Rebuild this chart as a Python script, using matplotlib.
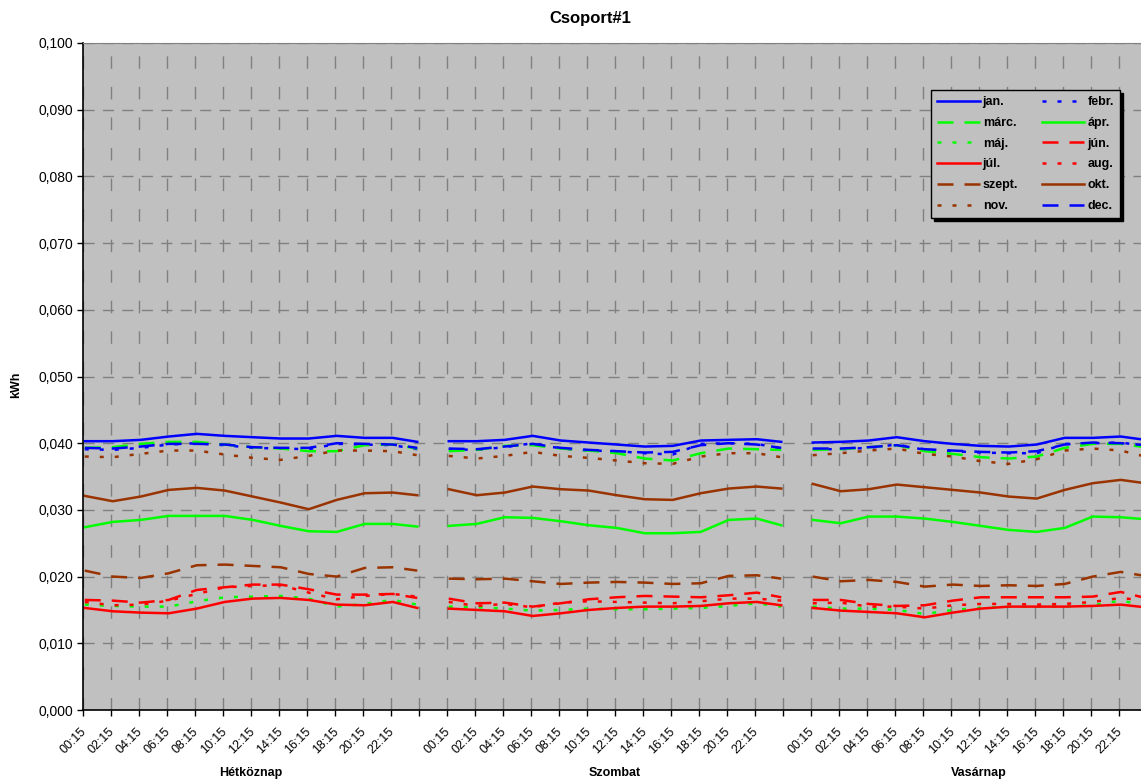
import matplotlib
matplotlib.use('Agg')
import matplotlib.pyplot as plt
import matplotlib.transforms as mtransforms
from matplotlib.ticker import FuncFormatter
import numpy as np

plt.rcParams['font.family'] = ['Liberation Sans', 'DejaVu Sans']

# category axis: 96 quarter hours per day, 8 empty categories between days
DAYS = ['Hétköznap', 'Szombat', 'Vasárnap']
DAY_OFFSET = [0, 104, 208]
HOUR_LABELS = ['00:15', '02:15', '04:15', '06:15', '08:15', '10:15',
               '12:15', '14:15', '16:15', '18:15', '20:15', '22:15']
# quarter-hour categories where values were read (every 2 h + last one)
POINT_CATS = [0, 8, 16, 24, 32, 40, 48, 56, 64, 72, 80, 88, 95]

# values per day (13 each): Hétköznap, Szombat, Vasárnap
jan = [0.0403, 0.0403, 0.0405, 0.0410, 0.0414, 0.0411, 0.0409, 0.0407, 0.0407, 0.0411, 0.0408, 0.0408, 0.0402,
       0.0403, 0.0403, 0.0405, 0.0411, 0.0404, 0.0401, 0.0398, 0.0395, 0.0396, 0.0404, 0.0405, 0.0406, 0.0402,
       0.0401, 0.0402, 0.0404, 0.0409, 0.0403, 0.0399, 0.0396, 0.0395, 0.0398, 0.0408, 0.0408, 0.0410, 0.0405]
febr = [0.0391, 0.0390, 0.0393, 0.0398, 0.0400, 0.0397, 0.0393, 0.0392, 0.0391, 0.0399, 0.0398, 0.0397, 0.0391,
        0.0391, 0.0390, 0.0394, 0.0400, 0.0392, 0.0389, 0.0388, 0.0385, 0.0383, 0.0399, 0.0400, 0.0399, 0.0392,
        0.0391, 0.0391, 0.0393, 0.0398, 0.0390, 0.0388, 0.0386, 0.0385, 0.0385, 0.0399, 0.0400, 0.0401, 0.0396]
marc = [0.0393, 0.0394, 0.0399, 0.0402, 0.0402, 0.0398, 0.0394, 0.0392, 0.0388, 0.0388, 0.0397, 0.0398, 0.0392,
        0.0388, 0.0390, 0.0396, 0.0397, 0.0392, 0.0389, 0.0385, 0.0377, 0.0374, 0.0385, 0.0392, 0.0391, 0.0390,
        0.0390, 0.0391, 0.0394, 0.0397, 0.0388, 0.0384, 0.0379, 0.0377, 0.0380, 0.0393, 0.0399, 0.0399, 0.0394]
apr = [0.0274, 0.0282, 0.0285, 0.0291, 0.0291, 0.0291, 0.0285, 0.0276, 0.0268, 0.0267, 0.0279, 0.0279, 0.0275,
       0.0276, 0.0279, 0.0289, 0.0288, 0.0283, 0.0277, 0.0273, 0.0265, 0.0265, 0.0267, 0.0285, 0.0287, 0.0277,
       0.0285, 0.0280, 0.0290, 0.0290, 0.0287, 0.0282, 0.0276, 0.0270, 0.0267, 0.0273, 0.0290, 0.0289, 0.0286]
maj = [0.0158, 0.0156, 0.0155, 0.0155, 0.0163, 0.0169, 0.0170, 0.0171, 0.0167, 0.0155, 0.0159, 0.0165, 0.0158,
       0.0155, 0.0154, 0.0152, 0.0149, 0.0150, 0.0152, 0.0151, 0.0151, 0.0152, 0.0153, 0.0156, 0.0160, 0.0155,
       0.0155, 0.0152, 0.0152, 0.0150, 0.0144, 0.0150, 0.0153, 0.0155, 0.0155, 0.0155, 0.0157, 0.0164, 0.0157]
jun = [0.0165, 0.0164, 0.0161, 0.0165, 0.0180, 0.0184, 0.0188, 0.0188, 0.0181, 0.0173, 0.0173, 0.0174, 0.0168,
       0.0167, 0.0160, 0.0161, 0.0155, 0.0160, 0.0166, 0.0169, 0.0171, 0.0170, 0.0169, 0.0172, 0.0176, 0.0169,
       0.0165, 0.0165, 0.0159, 0.0156, 0.0157, 0.0164, 0.0169, 0.0169, 0.0169, 0.0169, 0.0170, 0.0177, 0.0168]
jul = [0.0153, 0.0148, 0.0146, 0.0145, 0.0152, 0.0162, 0.0167, 0.0168, 0.0165, 0.0158, 0.0157, 0.0162, 0.0153,
       0.0152, 0.0150, 0.0148, 0.0141, 0.0145, 0.0150, 0.0153, 0.0155, 0.0155, 0.0156, 0.0160, 0.0162, 0.0157,
       0.0153, 0.0149, 0.0147, 0.0145, 0.0139, 0.0146, 0.0152, 0.0155, 0.0155, 0.0155, 0.0156, 0.0158, 0.0154]
aug = [0.0162, 0.0157, 0.0158, 0.0164, 0.0174, 0.0184, 0.0186, 0.0187, 0.0176, 0.0166, 0.0171, 0.0174, 0.0170,
       0.0162, 0.0156, 0.0159, 0.0154, 0.0161, 0.0163, 0.0162, 0.0161, 0.0160, 0.0163, 0.0167, 0.0167, 0.0164,
       0.0160, 0.0161, 0.0155, 0.0155, 0.0152, 0.0157, 0.0159, 0.0159, 0.0158, 0.0159, 0.0162, 0.0168, 0.0164]
szept = [0.0209, 0.0200, 0.0198, 0.0205, 0.0217, 0.0218, 0.0216, 0.0214, 0.0204, 0.0200, 0.0213, 0.0214, 0.0209,
         0.0197, 0.0196, 0.0197, 0.0193, 0.0189, 0.0191, 0.0192, 0.0191, 0.0189, 0.0190, 0.0201, 0.0202, 0.0197,
         0.0200, 0.0193, 0.0195, 0.0192, 0.0185, 0.0188, 0.0186, 0.0187, 0.0186, 0.0189, 0.0200, 0.0207, 0.0201]
okt = [0.0321, 0.0313, 0.0320, 0.0330, 0.0333, 0.0329, 0.0320, 0.0311, 0.0301, 0.0315, 0.0325, 0.0326, 0.0322,
       0.0331, 0.0322, 0.0326, 0.0335, 0.0331, 0.0329, 0.0322, 0.0316, 0.0315, 0.0325, 0.0332, 0.0335, 0.0332,
       0.0339, 0.0328, 0.0331, 0.0338, 0.0334, 0.0330, 0.0326, 0.0320, 0.0317, 0.0330, 0.0340, 0.0345, 0.0340]
nov = [0.0380, 0.0379, 0.0384, 0.0389, 0.0389, 0.0383, 0.0378, 0.0375, 0.0381, 0.0389, 0.0389, 0.0388, 0.0382,
       0.0381, 0.0377, 0.0381, 0.0387, 0.0381, 0.0378, 0.0374, 0.0370, 0.0369, 0.0380, 0.0385, 0.0385, 0.0379,
       0.0382, 0.0385, 0.0389, 0.0392, 0.0384, 0.0380, 0.0373, 0.0369, 0.0376, 0.0389, 0.0392, 0.0389, 0.0380]
dec = [0.0393, 0.0392, 0.0395, 0.0399, 0.0399, 0.0398, 0.0394, 0.0393, 0.0393, 0.0400, 0.0399, 0.0398, 0.0393,
       0.0392, 0.0391, 0.0395, 0.0399, 0.0393, 0.0390, 0.0388, 0.0386, 0.0387, 0.0397, 0.0400, 0.0398, 0.0393,
       0.0392, 0.0392, 0.0394, 0.0397, 0.0391, 0.0389, 0.0387, 0.0386, 0.0388, 0.0398, 0.0401, 0.0400, 0.0397]

BLUE, GREEN, RED, BROWN = '#0000FF', '#00FF00', '#FF0000', '#993300'
SOLID, DASH, DOT = None, (6.4, 4.4), (1.6, 4.4)

series = [
    ('jan.', jan, BLUE, SOLID), ('febr.', febr, BLUE, DOT),
    ('márc.', marc, GREEN, DASH), ('ápr.', apr, GREEN, SOLID),
    ('máj.', maj, GREEN, DOT), ('jún.', jun, RED, DASH),
    ('júl.', jul, RED, SOLID), ('aug.', aug, RED, DOT),
    ('szept.', szept, BROWN, DASH), ('okt.', okt, BROWN, SOLID),
    ('nov.', nov, BROWN, DOT), ('dec.', dec, BLUE, DASH),
]

W, H = 1141, 782
fig = plt.figure(figsize=(W / 100, H / 100), dpi=100)
ax = fig.add_axes([83 / W, 1 - 710 / H, 1064 / W, 667 / H])
ax.set_facecolor('#C0C0C0')

n = len(POINT_CATS)
handles = {}
for name, vals, col, dash in series:
    for d, off in enumerate(DAY_OFFSET):
        xs = [off + c + 0.5 for c in POINT_CATS]
        ys = vals[d * n:(d + 1) * n]
        ln, = ax.plot(xs, ys, color=col, lw=1.8, label=name if d == 0 else None)
        if dash is not None:
            ln.set_dashes(dash)
        if d == 0:
            handles[name] = ln

ax.set_xlim(0, 304)
ax.set_ylim(0, 0.1)

# y axis
ax.set_yticks(np.arange(0, 0.1001, 0.01))
ax.yaxis.set_major_formatter(FuncFormatter(lambda v, p: ('%.3f' % v).replace('.', ',')))
ax.tick_params(axis='y', direction='out', length=4, width=1, labelsize=10, pad=3)
ax.grid(axis='y', color='#808080', lw=1, dashes=(8, 6))

# x axis: tick marks between groups of 8 categories, labels on category centres
ax.set_xticks(np.arange(0, 305, 8))
ax.set_xticklabels([])
ax.tick_params(axis='x', which='major', direction='out', length=4, width=1)
ax.grid(axis='x', which='major', color='#808080', lw=1, dashes=(9, 13))

lab_pos, lab_txt = [], []
for off in DAY_OFFSET:
    for i, lab in enumerate(HOUR_LABELS):
        lab_pos.append(off + i * 8 + 0.5)
        lab_txt.append(lab)
ax.set_xticks(lab_pos, minor=True)
ax.set_xticklabels(lab_txt, minor=True)
ax.tick_params(axis='x', which='minor', length=0, labelsize=9, pad=14)
for t in ax.get_xticklabels(minor=True):
    t.set_rotation(45)
    t.set_ha('right')
    t.set_va('center')
    t.set_rotation_mode('anchor')

ax.set_axisbelow(True)
for s in ['left', 'bottom']:
    ax.spines[s].set_color('black')
    ax.spines[s].set_linewidth(1.2)
ax.spines['top'].set_color('#808080')
ax.spines['right'].set_visible(False)

trans = mtransforms.blended_transform_factory(ax.transData, fig.transFigure)
for day, off in zip(DAYS, DAY_OFFSET):
    ax.text(off + 48, 1 - 773 / H, day, transform=trans, ha='center', va='center',
            fontsize=9, fontweight='bold')

fig.text(590 / W, 1 - 18 / H, 'Csoport#1', ha='center', va='center', fontsize=12, fontweight='bold')
fig.text(16 / W, 1 - 385 / H, 'kWh', rotation=90, ha='center', va='center', fontsize=9, fontweight='bold')

# legend filled row by row like Excel
order = ['jan.', 'márc.', 'máj.', 'júl.', 'szept.', 'nov.',
         'febr.', 'ápr.', 'jún.', 'aug.', 'okt.', 'dec.']
leg = ax.legend([handles[k] for k in order], order, ncol=2, loc='upper right',
                bbox_to_anchor=(1120 / W, 1 - 90 / H), bbox_transform=fig.transFigure,
                prop={'weight': 'bold', 'size': 9}, fancybox=False,
                facecolor='#C0C0C0', edgecolor='black', framealpha=1,
                shadow={'color': 'black', 'alpha': 1}, handlelength=3.4,
                handletextpad=0.25, labelspacing=0.7, columnspacing=1.9,
                borderpad=0.5, borderaxespad=0)
leg.get_frame().set_linewidth(1)

fig.savefig('out.png', dpi=100)
